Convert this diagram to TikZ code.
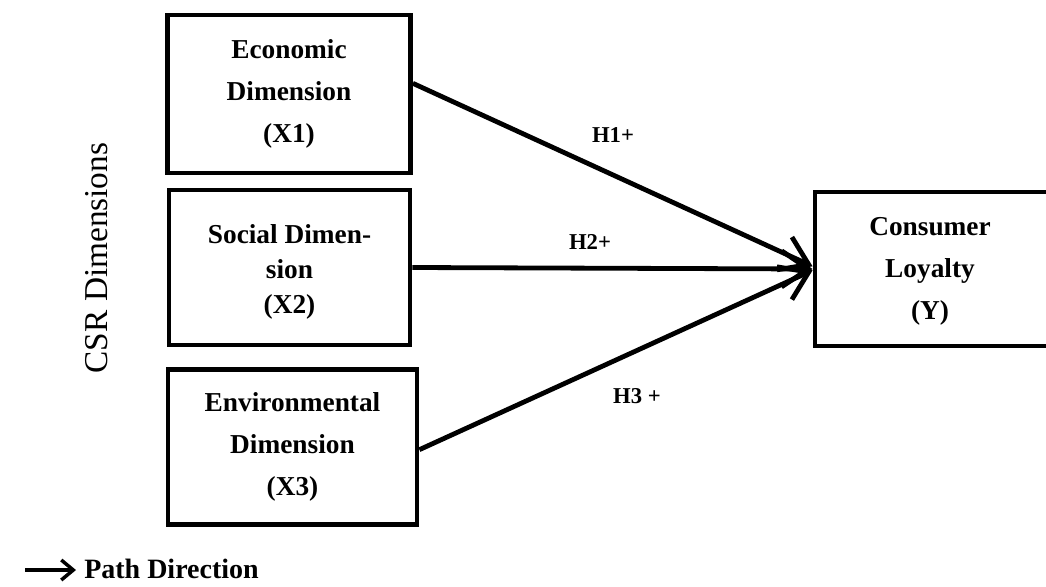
\documentclass[tikz,border=0pt]{standalone}
\usepackage{fontspec}
\setmainfont{Liberation Serif}
\usetikzlibrary{arrows.meta}
\begin{document}
\begin{tikzpicture}[x=0.75pt,y=-0.75pt,
  boxstyle/.style={draw, line width=3.6pt, inner sep=0pt, align=center,
    font=\fontsize{20.5}{31.5}\selectfont\bfseries},
  boxtext/.style={align=center, inner sep=0pt, font=\fontsize{20.5}{31.5}\selectfont\bfseries},
  pathline/.style={line width=3.6pt, -{Straight Barb[length=20pt,width=27pt,line width=3.6pt]}},
  hlabel/.style={font=\fontsize{17}{20}\selectfont\bfseries}]
\useasboundingbox (0,0) rectangle (1046,586);
\node[boxstyle, minimum width=243*0.75pt, minimum height=158*0.75pt] (b1) at (289,94)
  {Economic\\Dimension\\(X1)};
\node[boxstyle, minimum width=241*0.75pt, minimum height=155*0.75pt] (b2) at (289.5,267.5) {};
\node[boxtext, font=\fontsize{20.5}{26}\selectfont\bfseries] (b2text) at (289.5,272)
  {Social Dimen-\\sion\\(X2)};
\node[boxstyle, minimum width=249*0.75pt, minimum height=155*0.75pt] (b3) at (292.5,447)
  {Environmental\\Dimension\\(X3)};
\node[boxstyle, minimum width=244*0.75pt, minimum height=154*0.75pt] (y) at (937,269) {};
\node[boxtext] (ytext) at (930,271) {Consumer\\Loyalty\\(Y)};
\draw[pathline] ([yshift=8pt]b1.east) -- ([yshift=2pt]y.west);
\draw[pathline] (b2.east) -- (y.west);
\draw[pathline] ([yshift=-2pt]b3.east) -- ([yshift=-1pt]y.west);
\node[hlabel] (h1) at (613,135) {H1+};
\node[hlabel] (h2) at (590,242) {H2+};
\node[hlabel] (h3) at (637,396) {H3 +};
\node[rotate=90, font=\fontsize{25}{30}\selectfont] (csr) at (97,258) {CSR Dimensions};
\coordinate (la) at (25,570);
\coordinate (lb) at (76,570);
\draw[line width=2.6pt, -{Straight Barb[length=9pt,width=15pt,line width=2.6pt]}] (la) -- (lb);
\node[anchor=base west, font=\fontsize{21}{24}\selectfont\bfseries, inner sep=0pt] (leg) at (84,578) {Path Direction};
\end{tikzpicture}
\end{document}
